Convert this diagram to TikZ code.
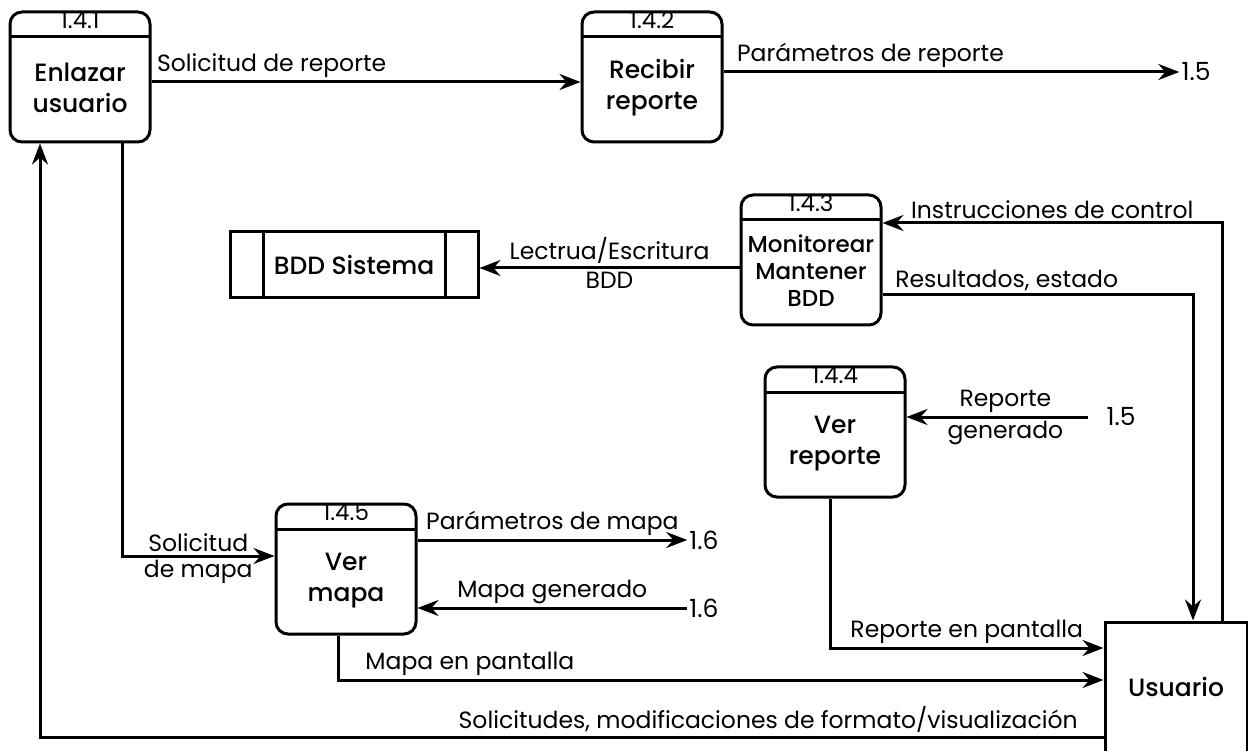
\documentclass[tikz,border=0pt]{standalone}
\usepackage{fontspec}
\setmainfont{Poppins}[BoldFont={Poppins Medium}]
\usetikzlibrary{arrows.meta}
\newcommand{\baja}{\rule{0pt}{40pt}}

\begin{document}
\begin{tikzpicture}[x=1pt,y=-1pt,
  proceso/.style={draw, line width=3pt, rounded corners=12pt,
    minimum width=140pt, minimum height=130pt, align=center, inner sep=0pt,
    font=\fontsize{25}{31}\selectfont\bfseries,
    label={[numero]north:#1},
    path picture={\draw[line width=3pt]
      ([yshift=-25pt]path picture bounding box.north west) --
      ([yshift=-25pt]path picture bounding box.north east);}},
  numero/.style={anchor=north, inner sep=1pt, font=\fontsize{23}{24}\selectfont},
  almacen/.style={draw, line width=3pt, minimum width=248pt, minimum height=66pt,
    font=\fontsize{25}{28}\selectfont\bfseries,
    path picture={
      \draw[line width=3pt] ([xshift=33pt]path picture bounding box.north west) -- ([xshift=33pt]path picture bounding box.south west);
      \draw[line width=3pt] ([xshift=-33pt]path picture bounding box.north east) -- ([xshift=-33pt]path picture bounding box.south east);}},
  entidad/.style={draw, line width=3pt, minimum width=142pt, minimum height=130pt,
    font=\fontsize{25}{28}\selectfont\bfseries},
  dato/.style={inner sep=2pt, font=\fontsize{25}{26}\selectfont},
  etiq/.style={inner sep=3pt, align=center, font=\fontsize{23.5}{27}\selectfont},
  flujo/.style={draw, line width=3pt, -{Stealth[length=21pt,width=16pt,inset=7pt]}}
]
  \useasboundingbox (0,0) rectangle (1248,751);

  \node[proceso=1.4.1] (p141) at (80,77) {\baja Enlazar\\usuario};
  \node[proceso=1.4.2] (p142) at (652,77) {\baja Recibir\\reporte};
  \node[proceso=1.4.3, font=\fontsize{23}{27}\selectfont\bfseries] (p143) at (811,260) {\baja Monitorear\\Mantener\\BDD};
  \node[proceso=1.4.4] (p144) at (835,432) {\baja Ver\\reporte};
  \node[proceso=1.4.5] (p145) at (346,569) {\baja Ver\\mapa};
  \node[almacen] (bdd) at (354,265) {BDD Sistema};
  \node[entidad] (usuario) at (1176,687) {Usuario};

  \node[dato] (d15a) at (1196,72) {1.5};
  \node[dato] (d15b) at (1121,417) {1.5};
  \node[dato] (d16a) at (704,540) {1.6};
  \node[dato] (d16b) at (704,608) {1.6};

  \draw[flujo] ([yshift=-5pt]p141.east) -- node[etiq, pos=0.28, above]{Solicitud de reporte} ([yshift=-5pt]p142.west);
  \draw[flujo] ([yshift=5pt]p142.east) -- node[etiq, pos=0.02, above right]{Parámetros de reporte} (d15a.west);
  \draw[flujo] ([xshift=46pt]usuario.north) |- node[etiq, pos=0.75, above]{Instrucciones de control} ([yshift=37pt]p143.east);
  \draw[flujo] ([yshift=-35pt]p143.east) -| node[etiq, pos=0.2, above]{Resultados, estado} ([xshift=17pt]usuario.north);
  \draw[flujo] ([yshift=-8pt]p143.west) -- node[etiq, above]{Lectrua/Escritura} node[etiq, below]{BDD} ([yshift=-8pt]p143.west -| bdd.east);
  \draw[flujo, shorten <=16pt] (d15b.west) -- node[etiq, above]{Reporte} node[etiq, below]{generado} ([yshift=15pt]p144.east);
  \draw[flujo] ([xshift=-5pt]p144.south) |- node[etiq, pos=0.75, above]{Reporte en pantalla} ([yshift=39pt]usuario.west);
  \draw[flujo] ([xshift=-8pt]p145.south) |- node[etiq, pos=0.515, above right]{Mapa en pantalla} ([yshift=7pt]usuario.west);
  \draw[flujo] ([yshift=-50pt]usuario.west) -| node[etiq, pos=0.01, above left]{Solicitudes, modificaciones de formato/visualización} ([xshift=-40pt]p141.south);
  \draw[flujo] ([xshift=42pt]p141.south) |- node[etiq, pos=0.75, above]{Solicitud} node[etiq, pos=0.75, below]{de mapa} ([yshift=13pt]p145.west);
  \draw[flujo] ([yshift=29pt]p145.east) -- node[etiq, above]{Parámetros de mapa} (d16a.west);
  \draw[flujo] (d16b.west) -- node[etiq, above]{Mapa generado} ([yshift=-39pt]p145.east);

\end{tikzpicture}
\end{document}
